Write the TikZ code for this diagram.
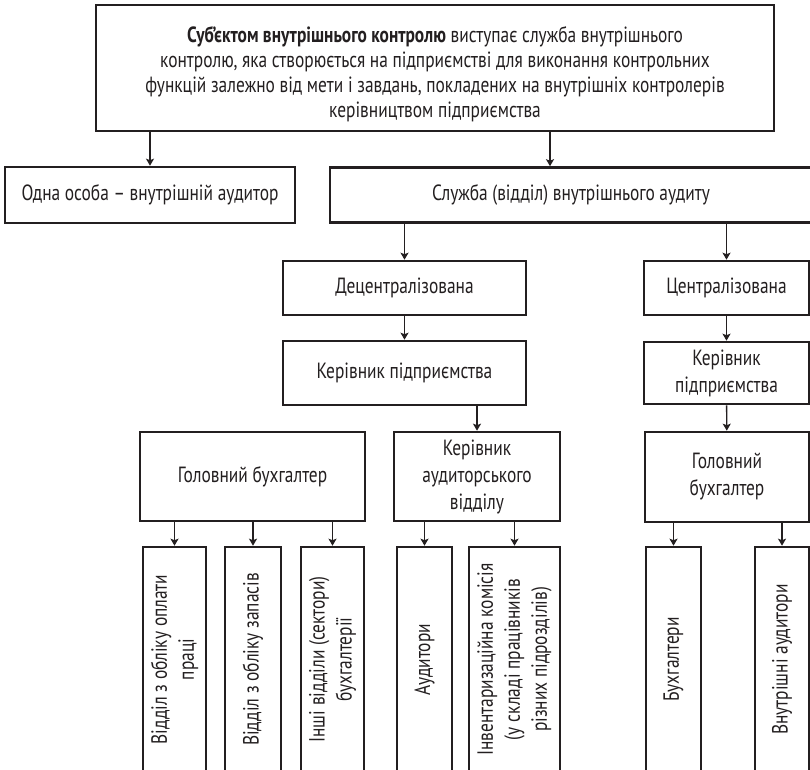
\documentclass[tikz,border=0pt]{standalone}
\usepackage{fontspec}
\setmainfont{PT Sans}[FakeStretch=0.79]
\usetikzlibrary{arrows.meta}
\definecolor{ink}{HTML}{231F20}
\begin{document}
\begin{tikzpicture}[x=1pt,y=-1pt,
  box/.style={draw=ink, line width=2.6pt, rectangle, inner sep=0pt, align=center,
    text=ink, font=\fontsize{22}{27}\selectfont},
  txt/.style={align=center, inner sep=0pt, text=ink, font=\fontsize{22}{25}\selectfont},
  vlabel/.style={rotate=90, align=center, inner sep=0pt, text=ink,
    font=\fontsize{22}{27}\selectfont},
  arr/.style={draw=ink, line width=1.4pt, -{Stealth[length=7pt,width=8pt,inset=1.5pt]}}]
\useasboundingbox (0,0) rectangle (810,769);
\clip (0,0) rectangle (810,769);
\fill[white] (0,0) rectangle (810,769);

% top level
\node[box, minimum width=678, minimum height=126] (top) at (435,68) {};
\node[txt] (toptext) at (435,74)
  {\textbf{Суб'єктом внутрішнього контролю} виступає служба внутрішнього\\
   контролю, яка створюється на підприємстві для виконання контрольних\\
   функцій залежно від мети і завдань, покладених на внутрішніх контролерів\\
   керівництвом підприємства};

% second level
\node[box, minimum width=290, minimum height=56] (one) at (150,195)
  {Одна особа – внутрішній аудитор};
\node[box, minimum width=482, minimum height=55] (svc) at (571,195)
  {Служба (відділ) внутрішнього аудиту};

% decentralised branch
\node[box, minimum width=243, minimum height=54] (dec) at (404.5,288) {Децентралізована};
\node[box, minimum width=243, minimum height=64] (mgr1) at (404.5,373) {Керівник підприємства};
\node[box, minimum width=225, minimum height=89] (chief1) at (252.5,476.5) {Головний бухгалтер};
\node[box, minimum width=166, minimum height=89] (aud) at (477,476.5)
  {Керівник\\аудиторського\\відділу};

% centralised branch
\node[box, minimum width=165, minimum height=54] (cen) at (726.5,288) {Централізована};
\node[box, minimum width=165, minimum height=62] (mgr2) at (726.5,373) {Керівник\\підприємства};
\node[box, minimum width=164, minimum height=90] (chief2) at (727,477) {Головний\\бухгалтер};

% bottom row: tall boxes with vertical captions
\node[box, minimum width=63, minimum height=225] (b1) at (174.5,659.5) {};
\node[box, minimum width=56, minimum height=225] (b2) at (253,659.5) {};
\node[box, minimum width=63, minimum height=225] (b3) at (332.5,659.5) {};
\node[box, minimum width=55, minimum height=225] (b4) at (424.5,659.5) {};
\node[box, minimum width=91, minimum height=225] (b5) at (514.5,659.5) {};
\node[box, minimum width=55, minimum height=225] (b6) at (673.5,659.5) {};
\node[box, minimum width=54, minimum height=225] (b7) at (782,659.5) {};

\node[vlabel] (t1) at (b1) {Відділ з обліку оплати\\праці};
\node[vlabel] (t2) at (b2) {Відділ з обліку запасів};
\node[vlabel] (t3) at (b3) {Інші відділи (сектори)\\бухгалтерії};
\node[vlabel] (t4) at (b4) {Аудитори};
\node[vlabel] (t5) at (b5) {Інвентаризаційна комісія\\(у складі працівників\\різних підрозділів)};
\node[vlabel] (t6) at (b6) {Бухгалтери};
\node[vlabel] (t7) at (b7) {Внутрішні аудитори};

% connectors
\coordinate (svcin) at ([xshift=-21pt]svc.north);
\draw[arr] (top.south -| one.north) -- (one.north);
\draw[arr] (top.south -| svcin) -- (svcin);
\draw[arr] (svc.south -| dec.north) -- (dec.north);
\draw[arr] (svc.south -| cen.north) -- (cen.north);
\draw[arr] (dec) -- (mgr1);
\draw[arr] (mgr1.south -| aud.north) -- (aud.north);
\draw[arr] (cen) -- (mgr2);
\draw[arr] (mgr2) -- (chief2);
\foreach \b in {b1,b2,b3} \draw[arr] (chief1.south -| \b.north) -- (\b.north);
\foreach \b in {b4,b5} \draw[arr] (aud.south -| \b.north) -- (\b.north);
\foreach \b in {b6,b7} \draw[arr] (chief2.south -| \b.north) -- (\b.north);
\end{tikzpicture}
\end{document}
